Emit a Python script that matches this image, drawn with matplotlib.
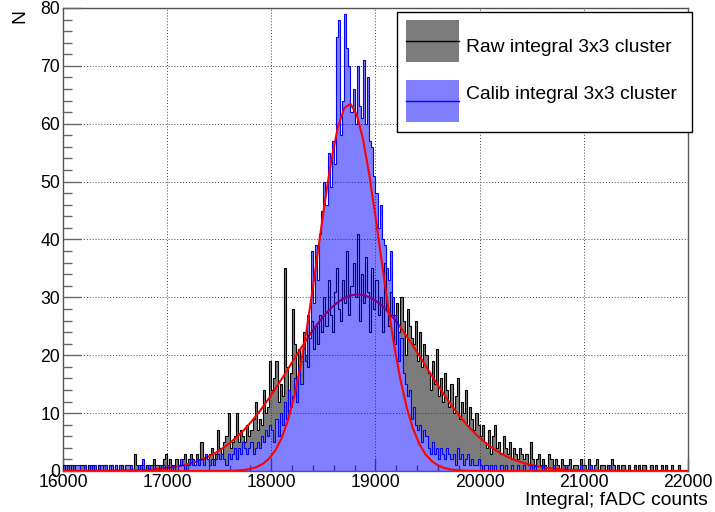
import numpy as np
import matplotlib
matplotlib.use("Agg")
import matplotlib.pyplot as plt
from matplotlib.patches import Rectangle
from matplotlib.lines import Line2D
from matplotlib.ticker import MultipleLocator

plt.rcParams['font.family'] = ['Liberation Sans', 'DejaVu Sans']

# histogram binning (fADC counts)
bin_lo, bin_hi, bin_w = 16000, 22000, 20

# raw integral 3x3 cluster, counts per bin
raw_counts = [
    1, 0, 1, 1, 0, 1, 0, 0, 1, 1, 1, 0, 1, 0, 1, 0, 0, 1, 0, 1, 1, 0, 0, 1, 0,
    1, 0, 1, 1, 0, 1, 1, 0, 0, 3, 1, 0, 1, 1, 0, 1, 0, 1, 2, 1, 1, 0, 1, 2, 3,
    1, 2, 1, 0, 2, 1, 1, 2, 3, 1, 2, 3, 2, 1, 3, 2, 5, 2, 3, 2, 3, 4, 2, 3, 7,
    4, 3, 5, 6, 10, 4, 5, 6, 10, 5, 7, 6, 5, 8, 6, 7, 9, 12, 7, 9, 8, 14, 10, 11, 19,
    14, 16, 19, 12, 15, 13, 35, 18, 14, 17, 28, 22, 16, 21, 19, 24, 20, 18, 23, 26, 21, 25, 22, 27, 24,
    30, 25, 33, 27, 24, 31, 35, 28, 26, 33, 29, 38, 27, 32, 36, 30, 41, 26, 34, 29, 37, 31, 24, 35, 28,
    33, 27, 30, 24, 36, 28, 25, 31, 27, 22, 29, 24, 30, 26, 20, 28, 25, 23, 22, 26, 19, 24, 18, 22, 20,
    17, 14, 19, 15, 21, 13, 16, 12, 17, 14, 11, 15, 10, 13, 16, 9, 12, 10, 14, 8, 11, 9, 7, 10, 8,
    6, 8, 5, 4, 7, 3, 6, 8, 4, 5, 3, 6, 4, 3, 5, 2, 4, 3, 2, 4, 3, 2, 3, 1, 5,
    2, 1, 2, 3, 1, 2, 1, 0, 3, 2, 1, 2, 1, 0, 2, 1, 0, 1, 2, 0, 1, 1, 0, 2, 1,
    1, 0, 2, 1, 0, 1, 2, 0, 1, 1, 0, 1, 0, 2, 1, 0, 1, 0, 1, 1, 0, 1, 0, 0, 1,
    0, 1, 0, 1, 1, 0, 0, 1, 0, 1, 0, 0, 1, 0, 1, 0, 0, 1, 0, 0, 1, 0, 0, 0, 0,
]

# calibrated integral 3x3 cluster
calib_counts = [
    1, 1, 0, 1, 1, 0, 1, 1, 0, 0, 1, 0, 0, 1, 0, 1, 0, 0, 1, 1, 1, 0, 1, 1, 0,
    1, 0, 1, 0, 0, 1, 1, 1, 0, 0, 0, 1, 0, 2, 0, 0, 1, 0, 1, 0, 0, 1, 0, 1, 0,
    1, 0, 1, 1, 0, 1, 2, 1, 0, 1, 1, 2, 1, 1, 2, 1, 2, 1, 3, 2, 1, 2, 1, 2, 3,
    2, 3, 2, 1, 3, 2, 3, 4, 2, 4, 3, 5, 4, 3, 4, 5, 3, 4, 5, 4, 6, 5, 7, 6, 8,
    7, 5, 9, 6, 10, 8, 12, 9, 14, 11, 13, 16, 12, 18, 15, 21, 19, 27, 23, 38, 29, 39, 33, 41, 45,
    50, 46, 55, 49, 57, 53, 75, 78, 58, 64, 79, 73, 70, 62, 66, 60, 70, 63, 61, 71, 60, 68, 57, 56, 51,
    48, 42, 46, 40, 39, 35, 33, 38, 30, 27, 26, 19, 23, 17, 15, 13, 14, 9, 11, 8, 7, 8, 5, 7, 6,
    4, 3, 5, 3, 4, 2, 4, 3, 2, 4, 3, 2, 3, 1, 4, 2, 3, 1, 2, 3, 1, 2, 1, 1, 2,
    1, 0, 1, 1, 0, 1, 0, 1, 0, 0, 1, 0, 1, 0, 0, 1, 0, 0, 1, 0, 0, 1, 0, 0, 1,
    0, 1, 0, 0, 0, 1, 0, 0, 0, 0, 1, 0, 0, 0, 0, 0, 1, 0, 0, 0, 0, 0, 0, 1, 0,
    0, 0, 0, 1, 0, 0, 0, 0, 0, 0, 0, 0, 1, 0, 0, 0, 0, 0, 0, 0, 0, 0, 0, 0, 0,
    0, 0, 0, 0, 0, 0, 0, 0, 0, 0, 0, 0, 0, 0, 0, 0, 0, 0, 0, 0, 0, 0, 0, 0, 0,
]

# gaussian fit parameters (amplitude, mean, sigma)
raw_fit_par = [30.5, 18830, 640]
calib_fit_par = [63.5, 18747, 295]

legend_labels = ["Raw integral 3x3 cluster", "Calib integral 3x3 cluster"]

edges = np.arange(bin_lo, bin_hi + bin_w, bin_w)
raw = np.array(raw_counts)
calib = np.array(calib_counts)


def gaus(x, par):
    return par[0] * np.exp(-0.5 * ((x - par[1]) / par[2]) ** 2)


xf = np.linspace(bin_lo, bin_hi, 101)

fig = plt.figure(figsize=(7.15, 5.12), dpi=100)
ax = fig.add_axes([0.0881, 0.0801, 0.8741, 0.9043])

gray = '#7c7c7c'
# raw histogram fill, then calib area blanked (pattern fills overlap in ROOT)
ax.stairs(raw, edges, fill=True, color=gray, lw=0, zorder=1.0)
ax.stairs(calib, edges, fill=True, color='white', lw=0, zorder=1.1)
ax.stairs(raw, edges, color='black', lw=0.8, zorder=2.6)
ax.plot(xf, gaus(xf, raw_fit_par), color='red', lw=1.5, zorder=2.7)

ax.stairs(calib, edges, fill=True, facecolor=(0, 0, 1, 0.5), lw=0, zorder=2.8)
ax.stairs(calib, edges, color='blue', lw=0.8, zorder=2.9)
ax.plot(xf, gaus(xf, calib_fit_par), color='red', lw=1.5, zorder=3.0)

ax.set_xlim(bin_lo, bin_hi)
ax.set_ylim(0, 80)
ax.xaxis.set_major_locator(MultipleLocator(1000))
ax.xaxis.set_minor_locator(MultipleLocator(200))
ax.yaxis.set_major_locator(MultipleLocator(10))
ax.yaxis.set_minor_locator(MultipleLocator(2))

ax.set_axisbelow(False)
ax.grid(True, which='major', linestyle=(0, (1, 2)), color='0.25', linewidth=0.7)

ax.tick_params(axis='y', which='major', direction='in', length=13, width=1,
               color='0.4', labelsize=12.7, pad=2)
ax.tick_params(axis='y', which='minor', direction='in', length=6.5, width=1, color='0.4')
ax.tick_params(axis='x', which='major', direction='in', length=9.5, width=1,
               color='0.4', labelsize=12.7, pad=2)
ax.tick_params(axis='x', which='minor', direction='in', length=4.5, width=1, color='0.4')
for s in ax.spines.values():
    s.set_color('0.35')
    s.set_linewidth(1)

fig.text(0.028, 0.969, "N", rotation=90, ha='center', va='center', fontsize=13.9)
fig.text(0.990, 0.0234, "Integral; fADC counts", ha='right', va='center', fontsize=13.9)

# legend box
fig.add_artist(Rectangle((0.5552, 0.7422), 0.4126, 0.2344, transform=fig.transFigure,
                         facecolor='white', edgecolor='black', lw=1, zorder=5))
sw_x, sw_w = 0.5678, 0.0742
fig.add_artist(Rectangle((sw_x, 0.8789), sw_w, 0.0820, transform=fig.transFigure,
                         facecolor=gray, lw=0, zorder=6))
fig.add_artist(Line2D([sw_x, sw_x + sw_w], [0.9199, 0.9199], transform=fig.transFigure,
                      color='black', lw=1, zorder=7))
fig.add_artist(Rectangle((sw_x, 0.7617), sw_w, 0.0820, transform=fig.transFigure,
                         facecolor=(0, 0, 1, 0.5), lw=0, zorder=6))
fig.add_artist(Line2D([sw_x, sw_x + sw_w], [0.8027, 0.8027], transform=fig.transFigure,
                      color='blue', lw=1, zorder=7))
fig.text(0.6517, 0.9082, legend_labels[0], ha='left', va='center', fontsize=13.9, zorder=8)
fig.text(0.6517, 0.8164, legend_labels[1], ha='left', va='center', fontsize=13.9, zorder=8)

fig.savefig("out.png", dpi=100)
